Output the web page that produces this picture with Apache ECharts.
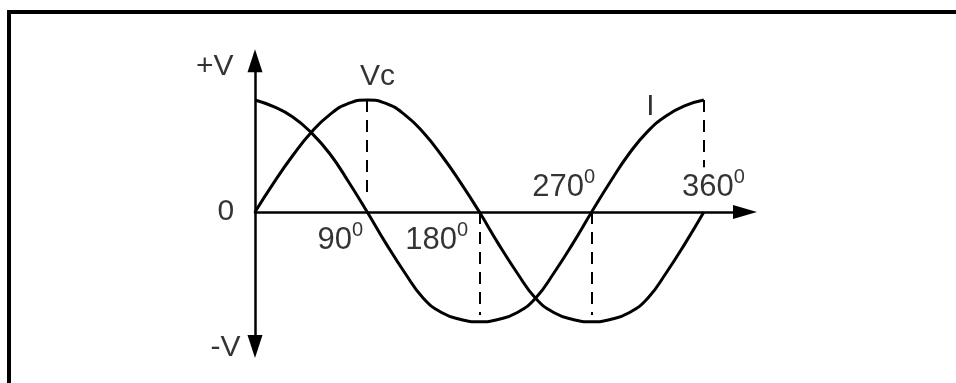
<!DOCTYPE html>
<html>
<head>
<meta charset="utf-8">
<script src="https://cdn.jsdelivr.net/npm/echarts@6/dist/echarts.min.js"></script>
<style>
html, body { margin: 0; padding: 0; background: #fff; }
#container { width: 956px; height: 383px; }
</style>
</head>
<body>
<div id="container"></div>
<script>
// angle in degrees, one point every 15 degrees
var angles = [0, 15, 30, 45, 60, 75, 90, 105, 120, 135, 150, 165, 180,
              195, 210, 225, 240, 255, 270, 285, 300, 315, 330, 345, 360];
// capacitor voltage Vc (peak = 1)
var vcValues = [0, 0.26, 0.5, 0.71, 0.87, 0.97, 1.0, 0.97, 0.87, 0.71, 0.5, 0.26, 0,
                -0.28, -0.54, -0.77, -0.9, -0.96, -0.98, -0.96, -0.9, -0.77, -0.54, -0.28, 0];
// current I
var iValues = [1.0, 0.94, 0.85, 0.71, 0.52, 0.27, 0, -0.28, -0.54, -0.77, -0.9, -0.96, -0.98,
               -0.96, -0.9, -0.77, -0.54, -0.28, 0, 0.27, 0.52, 0.72, 0.86, 0.95, 1.0];
// degree marks written along the x axis
var tickAngles = [90, 180, 270, 360];
var tickLabels = ['90', '180', '270', '360'];
// dashed drop lines (angle, from, to)
var dropAngles = [90, 180, 270, 360];
var dropFrom = [1.0, 0, 0, 1.0];
var dropTo = [0.12, -0.92, -0.92, 0.4];
// y axis texts
var axisTexts = ['+V', '0', '-V'];
var axisTextValues = [1.35, 0, -1.2];
// curve names
var curveNames = ['Vc', 'I'];

var FONT = '"Liberation Sans", Arial, sans-serif';

function textItem(x, y, text, align, dx, dy) {
    return {
        value: [x, y],
        label: {
            show: true, position: 'inside', formatter: text,
            align: align, verticalAlign: 'top', offset: [dx, dy],
            color: '#000', fontSize: 30, lineHeight: 32, fontFamily: FONT,
            textBorderWidth: 0
        }
    };
}

function degreeItem(i, dx, dy) {
    return {
        value: [tickAngles[i], 0],
        label: {
            show: true, position: 'inside',
            formatter: '{n|' + tickLabels[i] + '}{s|0}',
            align: 'right', verticalAlign: 'top', offset: [dx, dy],
            textBorderWidth: 0,
            rich: {
                n: {fontSize: 31, lineHeight: 32, verticalAlign: 'middle', align: 'left', color: '#000', fontFamily: FONT},
                s: {fontSize: 20, lineHeight: 32, verticalAlign: 'bottom', align: 'left', padding: [0, 0, 16, 0], color: '#000', fontFamily: FONT}
            }
        }
    };
}

var texts = [
    textItem(0, axisTextValues[0], axisTexts[0], 'right', -21.5, -10.2),
    textItem(0, axisTextValues[1], axisTexts[1], 'right', -20.7, -16.4),
    textItem(0, axisTextValues[2], axisTexts[2], 'right', -14.5, -14.8),
    textItem(90, 1, curveNames[0], 'left', -7.2, -39.4),
    textItem(360, 1, curveNames[1], 'left', -57.7, -9.4),
    degreeItem(0, -4.2, 12.3),
    degreeItem(1, -11.4, 12.3),
    degreeItem(2, 3.4, -40.7),
    degreeItem(3, 41, -40.7)
];

var dom = document.getElementById('container');
var myChart = echarts.init(dom);
var option = {
    animation: false,
    backgroundColor: '#fff',
    grid: {left: 255, top: 60.8, width: 490, height: 285.6, containLabel: false, outerBoundsMode: 'none'},
    xAxis: {
        type: 'value', min: 0, max: 393,
        axisLine: {show: true, onZero: true, symbol: ['none', 'triangle'], symbolSize: [14, 24],
                   lineStyle: {color: '#000', width: 2.5}},
        axisTick: {show: false}, axisLabel: {show: false}, splitLine: {show: false}
    },
    yAxis: {
        type: 'value', min: -1.2, max: 1.35,
        axisLine: {show: true, symbol: ['triangle', 'triangle'], symbolSize: [15, 23],
                   lineStyle: {color: '#000', width: 2.5}},
        axisTick: {show: false}, axisLabel: {show: false}, splitLine: {show: false}
    },
    // frame: only the top and left edges fall inside the picture
    graphic: [{
        type: 'polyline', silent: true,
        shape: {points: [[9, 420], [9, 12], [1000, 12]]},
        style: {fill: 'none', stroke: '#000', lineWidth: 4}
    }],
    series: [
        {
            name: 'Vc', type: 'line', smooth: true, showSymbol: false, silent: true,
            lineStyle: {color: '#000', width: 3},
            data: angles.map(function (a, i) { return [a, vcValues[i]]; }),
            markLine: {
                silent: true, symbol: ['none', 'none'], label: {show: false},
                lineStyle: {color: '#000', width: 2, type: [12, 8]},
                data: dropAngles.map(function (a, i) {
                    return [{coord: [a, dropFrom[i]]}, {coord: [a, dropTo[i]]}];
                })
            }
        },
        {
            name: 'I', type: 'line', smooth: true, showSymbol: false, silent: true,
            lineStyle: {color: '#000', width: 3},
            data: angles.map(function (a, i) { return [a, iValues[i]]; })
        },
        {
            type: 'scatter', silent: true, clip: false, symbolSize: 1,
            itemStyle: {color: 'rgba(0,0,0,0)'},
            data: texts
        }
    ]
};
myChart.setOption(option);
</script>
</body>
</html>
